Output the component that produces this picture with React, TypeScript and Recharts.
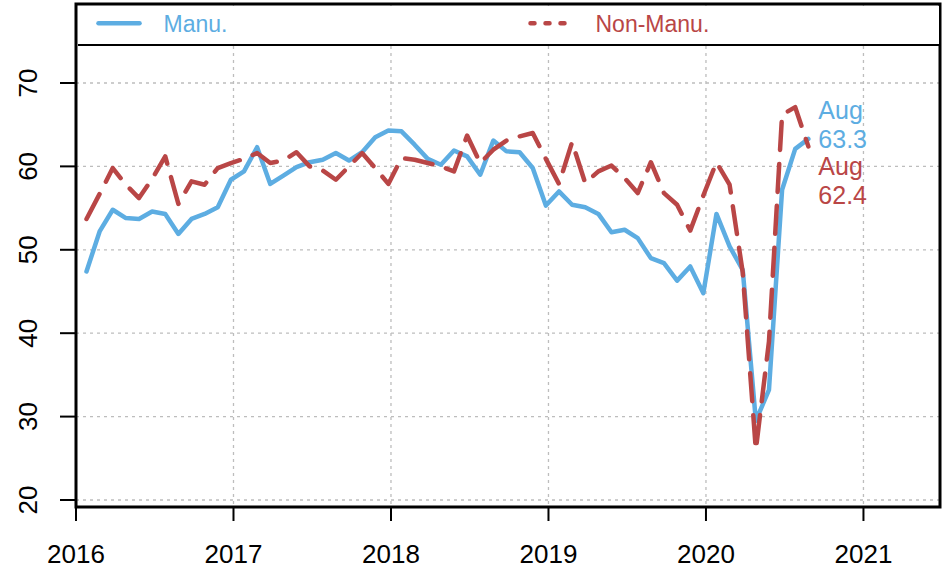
import React from "react";
import {
  CartesianGrid,
  LabelList,
  Legend,
  Line,
  LineChart,
  ReferenceArea,
  XAxis,
  YAxis,
} from "recharts";

const months = [
  "2016-01", "2016-02", "2016-03", "2016-04", "2016-05", "2016-06",
  "2016-07", "2016-08", "2016-09", "2016-10", "2016-11", "2016-12",
  "2017-01", "2017-02", "2017-03", "2017-04", "2017-05", "2017-06",
  "2017-07", "2017-08", "2017-09", "2017-10", "2017-11", "2017-12",
  "2018-01", "2018-02", "2018-03", "2018-04", "2018-05", "2018-06",
  "2018-07", "2018-08", "2018-09", "2018-10", "2018-11", "2018-12",
  "2019-01", "2019-02", "2019-03", "2019-04", "2019-05", "2019-06",
  "2019-07", "2019-08", "2019-09", "2019-10", "2019-11", "2019-12",
  "2020-01", "2020-02", "2020-03", "2020-04", "2020-05", "2020-06",
  "2020-07", "2020-08",
];

const manu = [
  47.4, 52.2, 54.8, 53.8, 53.7, 54.6, 54.3, 51.9, 53.7, 54.3, 55.1, 58.4,
  59.4, 62.3, 57.9, 58.9, 59.9, 60.5, 60.8, 61.6, 60.7, 61.7, 63.5, 64.3,
  64.2, 62.6, 60.9, 60.2, 61.9, 61.2, 59.0, 63.1, 61.8, 61.7, 59.8, 55.3,
  57.0, 55.4, 55.1, 54.3, 52.1, 52.4, 51.4, 49.0, 48.4, 46.3, 48.0, 44.8,
  54.3, 50.4, 47.6, 29.5, 33.2, 57.2, 62.1, 63.3,
];

const nonManu = [
  53.7, 56.7, 59.8, 57.8, 56.2, 58.5, 61.2, 55.5, 58.2, 57.8, 59.8, 60.4,
  60.9, 61.6, 60.4, 60.7, 61.7, 60.0, 59.5, 58.4, 60.0, 61.6, 59.8, 57.9,
  61.0, 60.8, 60.4, 60.0, 59.4, 63.7, 60.4, 62.0, 63.1, 63.6, 64.0, 60.9,
  57.9, 62.9, 58.0, 59.4, 60.1, 58.6, 56.8, 60.5, 56.8, 55.4, 52.3, 56.5,
  60.5, 57.8, 47.3, 26.0, 39.0, 66.2, 67.1, 62.4,
];

const monthNames = ["Jan", "Feb", "Mar", "Apr", "May", "Jun", "Jul", "Aug", "Sep", "Oct", "Nov", "Dec"];
const xTicks = [2016, 2017, 2018, 2019, 2020, 2021];
const yTicks = [20, 30, 40, 50, 60, 70];

const BLUE = "#5DADE2";
const RED = "#B94646";
const GRID = "#BDBDBD";
const FONT = "'Liberation Sans', Arial, Helvetica, sans-serif";

const X_MIN = 2016;
const X_MAX = 2021.486;
const Y_MIN = 19.16;
const Y_MAX = 79.47;

const toYear = (m: string) => {
  const [y, mo] = m.split("-").map(Number);
  return y + (mo - 0.2) / 12;
};

const data = months.map((m, i) => ({ t: toYear(m), manu: manu[i], nonManu: nonManu[i] }));
const last = data.length - 1;
const lastMonth = monthNames[Number(months[last].split("-")[1]) - 1];

const endLabel = (color: string, dy1: number) => (props: any) => {
  if (props.index !== last) return null;
  const x = Number(props.x) + 10;
  const y = Number(props.y);
  return (
    <text fill={color} fontSize={25} fontFamily={FONT}>
      <tspan x={x} y={y + dy1}>{lastMonth}</tspan>
      <tspan x={x} y={y + dy1 + 29}>{Number(props.value).toFixed(1)}</tspan>
    </text>
  );
};

const XTick = (props: any) => (
  <text x={props.x} y={props.y + 40} textAnchor="middle" fontSize={26} fontFamily={FONT} fill="#000">
    {props.payload.value}
  </text>
);

const YTick = (props: any) => (
  <text
    transform={`translate(${props.x - 21},${props.y}) rotate(-90)`}
    textAnchor="middle"
    fontSize={26}
    fontFamily={FONT}
    fill="#000"
  >
    {props.payload.value}
  </text>
);

const renderLegend = () => (
  <svg width={861} height={38} style={{ display: "block" }}>
    <line x1={20.5} x2={61.5} y1={17.2} y2={17.2} stroke={BLUE} strokeWidth={4.5} strokeLinecap="round" />
    <text x={85.5} y={26.2} fill={BLUE} fontSize={23} fontFamily={FONT}>
      Manu.
    </text>
    <line
      x1={452.5}
      x2={486.5}
      y1={17.2}
      y2={17.2}
      stroke={RED}
      strokeWidth={4.5}
      strokeLinecap="round"
      strokeDasharray="4 11"
    />
    <text x={517.5} y={26.2} fill={RED} fontSize={23} fontFamily={FONT}>
      Non-Manu.
    </text>
  </svg>
);

export default function App() {
  return (
    <div style={{ width: 947, height: 571, background: "#fff" }}>
      <style>{"body{margin:0}"}</style>
      <LineChart width={947} height={571} data={data} margin={{ top: 4, right: 7, bottom: 0, left: 0 }}>
        <CartesianGrid stroke={GRID} strokeWidth={1.3} strokeDasharray="3 4" />
        <XAxis
          dataKey="t"
          type="number"
          domain={[X_MIN, X_MAX]}
          ticks={xTicks}
          allowDataOverflow
          height={64}
          axisLine={false}
          tickSize={14}
          tickLine={{ stroke: "#000", strokeWidth: 2 }}
          tick={<XTick />}
        />
        <YAxis
          type="number"
          domain={[Y_MIN, Y_MAX]}
          ticks={yTicks}
          allowDataOverflow
          width={76}
          axisLine={false}
          tickSize={16}
          tickLine={{ stroke: "#000", strokeWidth: 2 }}
          tick={<YTick />}
        />
        <Legend
          layout="horizontal"
          verticalAlign="middle"
          align="center"
          content={renderLegend}
          wrapperStyle={{
            left: 77.5,
            top: 5.5,
            width: 861,
            height: 38,
            background: "#fff",
            borderBottom: "2.5px solid #000",
            boxSizing: "content-box",
          }}
        />
        <Line
          dataKey="manu"
          name="Manu."
          stroke={BLUE}
          strokeWidth={4.5}
          strokeLinecap="round"
          strokeLinejoin="round"
          dot={false}
          activeDot={false}
          isAnimationActive={false}
        >
          <LabelList dataKey="manu" content={endLabel(BLUE, -20)} />
        </Line>
        <Line
          dataKey="nonManu"
          name="Non-Manu."
          stroke={RED}
          strokeWidth={4.5}
          strokeDasharray="28 14"
          strokeLinecap="round"
          strokeLinejoin="round"
          dot={false}
          activeDot={false}
          isAnimationActive={false}
        >
          <LabelList dataKey="nonManu" content={endLabel(RED, 29)} />
        </Line>
        <ReferenceArea x1={X_MIN} x2={X_MAX} y1={Y_MIN} y2={Y_MAX} fill="none" stroke="#000" strokeWidth={3} />
      </LineChart>
    </div>
  );
}
